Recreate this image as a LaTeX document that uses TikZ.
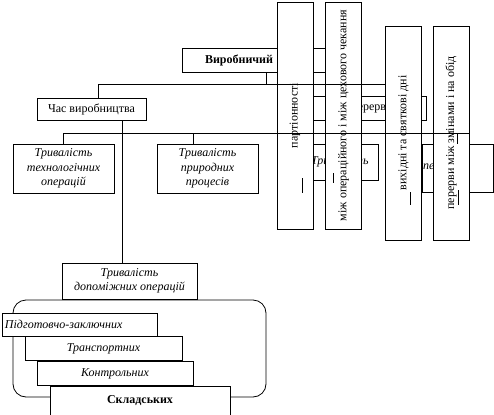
\documentclass[tikz,border=0pt]{standalone}
\usepackage{fontspec}
\setmainfont{Liberation Serif}
\usetikzlibrary{positioning}
\tikzset{
	every node/.style={font=\fontsize{12}{14}\selectfont},
	box/.style={
		draw,
		fill=white,
		inner sep=1pt,
		align=center
	},
	ibox/.style={box, font=\fontsize{12}{14.5}\selectfont\itshape},
	bbox/.style={box, font=\fontsize{12}{14}\selectfont\bfseries},
	vbox/.style={box, rotate=90, minimum height=36pt}
}

\begin{document}
\begin{tikzpicture}[x=1pt, y=-1pt, line width=0.8pt]
		\useasboundingbox (0,0) rectangle (494,414);
		\coordinate (bus1) at (0,84);
		\coordinate (bus2) at (0,133);

		% auxiliary operations group
		\draw[rounded corners=13pt] (13,300) rectangle (266,397);
		\node[ibox, text width=149pt, inner xsep=3pt, align=left, minimum height=23pt] (prep) at (79.5,324.5) {Підготовчо-заключних};
		\node[ibox, minimum width=157pt, minimum height=24pt, anchor=north west] (transp) at ([xshift=23pt]prep.south west) {Транспортних};
		\node[ibox, minimum width=156pt, minimum height=24pt, anchor=north west] (contr) at ([xshift=12pt]transp.south west) {Контрольних};
		\node[bbox, minimum width=180pt, minimum height=29pt, anchor=north west] (store) at ([xshift=13pt]contr.south west) {Складських};

		\node[bbox, text width=122pt, inner xsep=23pt, align=left, minimum height=24pt] (cycle) at (266,60) {Виробничий цикл};
		\node[box, minimum width=109pt, minimum height=22pt] (prodtime) at (91.5,109) {Час виробництва};
		\node[box, minimum width=136pt, minimum height=24pt] (breaktime) at (358,108) {Час перерв};
		\node[ibox, minimum width=101pt, minimum height=49pt] (tech) at (63.5,168.5) {Тривалість\\технологічних\\операцій};
		\node[ibox, minimum width=101pt, minimum height=49pt] (natur) at (207.5,168.5) {Тривалість\\природних\\процесів};
		\node[ibox, text width=58pt, inner xsep=9pt, align=left, minimum height=36pt] (orgbreak) at (340,162) {Тривалість};
		\node[ibox, text width=69pt, inner xsep=1pt, align=left, minimum height=48pt] (regbreak) at (457.5,168) {перерв};
		\node[ibox, minimum width=135pt, minimum height=36pt] (aux) at (129.5,281) {Тривалість\\допоміжних операцій};

		\draw (cycle) -- (cycle |- bus1);
		\draw (breaktime) -- (breaktime |- bus1);
		\draw (orgbreak) -- (orgbreak |- bus2);
		\draw ([xshift=30.5pt]prodtime.south) -- ([xshift=30.5pt]prodtime.south |- aux.north);

		% vertical boxes
		\node[vbox, minimum width=227pt] (lot) at (295,115.5) {партіонності};
		\node[vbox, minimum width=227pt] (wait) at (343.5,115.5) {між операційного і між цехового чекання};
		\node[vbox, minimum width=214pt] (holid) at (403.5,133) {вихідні та святкові дні};
		\node[vbox, minimum width=214pt] (shiftbr) at (451,133) {перерви між змінами і на обід};

		% marks inside the vertical boxes
		\draw (302,178) -- (302,193);
		\draw (333,173) -- (333,183);
		\draw (410,192) -- (410,205);
		\draw (458,190) -- (458,205);

		\draw ([xshift=6.5pt]prodtime.north) |- (holid.north |- bus1);
		\draw (tech) |- (shiftbr.south |- bus2);
		\draw ([xshift=-14.5pt]natur.north) -- ([xshift=-14.5pt]natur.north |- bus2);
		\draw (regbreak) -- (regbreak |- bus2);

	\end{tikzpicture}
\end{document}
